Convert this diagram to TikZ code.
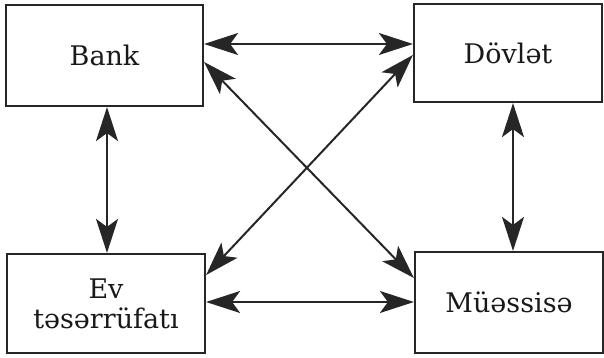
\documentclass[tikz,border=0pt]{standalone}
\usepackage{fontspec}
\setmainfont{DejaVu Serif}
\usetikzlibrary{arrows.meta}

\begin{document}
\begin{tikzpicture}[x=0.5pt,y=-0.5pt,
    sector/.style={draw=black!85, line width=1.1pt, text=black!90,
        font=\fontsize{13.5}{16}\selectfont, align=center, inner sep=0pt},
    flow/.style={draw=black!85, line width=1pt,
        {Stealth[length=17pt,width=11pt,inset=4pt]}-{Stealth[length=17pt,width=11pt,inset=4pt]}}]
    \useasboundingbox (0,0) rectangle (604,358);

    % Draw the four sectors
    \node[sector, minimum width=98.5pt, minimum height=50.5pt] (bank) at (104.5,55.5) {Bank};
    \node[sector, minimum width=94pt, minimum height=49pt] (state) at (508,53) {Dövlət};
    \node[sector, minimum width=99pt, minimum height=49.5pt] (home) at (106,303.5) {Ev\\[-1pt]təsərrüfatı};
    \node[sector, minimum width=94pt, minimum height=50.5pt] (firm) at (509,302.5) {Müəssisə};

    % Horizontal flows
    \draw[flow] ([yshift=5.75pt]bank.east) -- ([yshift=5.75pt]bank.east -| state.west);
    \draw[flow] ([yshift=0.75pt]home.east) -- ([yshift=0.75pt]home.east -| firm.west);

    % Vertical flows
    \draw[flow] ([xshift=1.25pt]bank.south) -- ([xshift=1.25pt]bank.south |- home.north);
    \draw[flow] ([xshift=2.5pt]state.south) -- ([xshift=2.5pt]state.south |- firm.north);

    % Diagonal flows
    \draw[flow] ([yshift=-3.25pt]bank.east) -- ([yshift=12.25pt]firm.west);
    \draw[flow] ([yshift=14.25pt]home.east) -- ([yshift=-1pt]state.west);
\end{tikzpicture}
\end{document}
